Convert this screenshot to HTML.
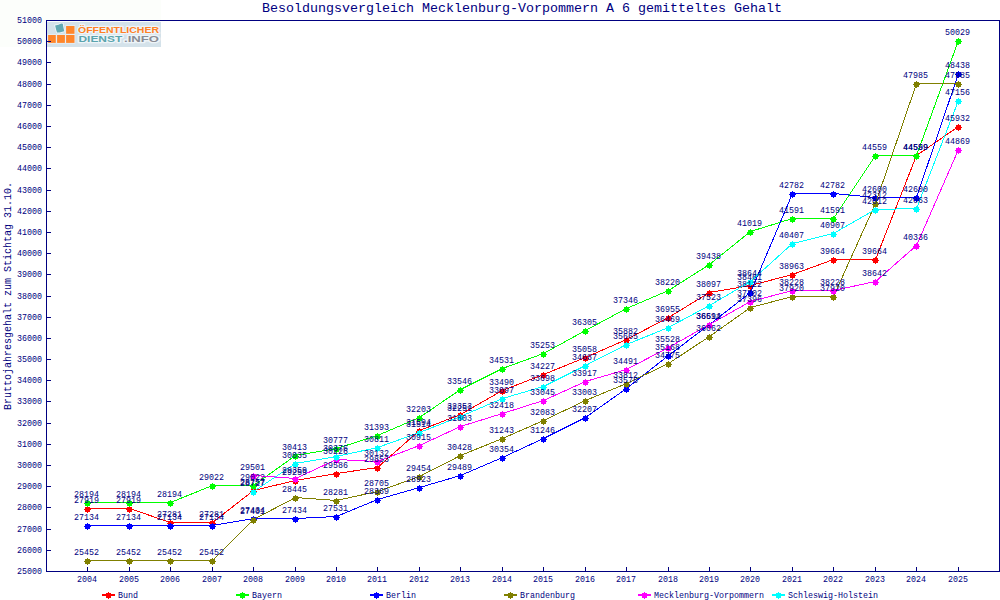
<!DOCTYPE html>
<html lang="de"><head><meta charset="utf-8"><title>Besoldungsvergleich</title><style>html,body{margin:0;padding:0;background:#fff;width:1000px;height:600px;overflow:hidden;font-family:"Liberation Sans",sans-serif}</style></head><body><svg width="1000" height="600" viewBox="0 0 1000 600" shape-rendering="crispEdges" style="display:block"><defs><path id="mk" d="M0 0h1v1h-1zM-2 1h5v2h-5zM-3 3h7v1h-7zM-2 4h5v2h-5zM0 6h1v1h-1z"/></defs><rect width="1000" height="600" fill="#ffffff"/><rect x="0" y="0" width="161" height="47" fill="#fcfefb"/>
<rect x="47" y="22" width="114" height="25" fill="#d4e2ea"/>
<g shape-rendering="geometricPrecision">
<rect x="48.1" y="35.0" width="7.7" height="7.9" fill="#ff862b" stroke="#e9f1f6" stroke-width="1.4" paint-order="stroke"/>
<rect x="57.1" y="35.0" width="7.8" height="7.9" fill="#ff862b" stroke="#e9f1f6" stroke-width="1.4" paint-order="stroke"/>
<rect x="66.1" y="35.0" width="8.4" height="7.9" fill="#ff862b" stroke="#e9f1f6" stroke-width="1.4" paint-order="stroke"/>
<rect x="66.1" y="26.0" width="8.4" height="7.8" fill="#ff862b" stroke="#e9f1f6" stroke-width="1.4" paint-order="stroke"/>
<path d="M55.1 25.4L58.6 24.7L60 24L61.4 23.5L62.8 23.7L63.3 27L64 30L64.2 31.2L61.4 31.9L59.6 32.6L57 32.4L56 29.3L55.6 27.5Z" fill="#62a9b3" stroke="#f2f7fa" stroke-width="1.6" paint-order="stroke" stroke-linejoin="round"/>
<text x="78" y="33.45" font-family="'Liberation Sans', sans-serif" font-size="9.7" font-weight="bold" fill="#ff8025" stroke="#eef4f8" stroke-width="2.5" stroke-linejoin="round" paint-order="stroke" textLength="81" lengthAdjust="spacingAndGlyphs">&#214;FFENTLICHER</text>
<text x="78.5" y="42.45" font-family="'Liberation Sans', sans-serif" font-size="9.5" font-weight="bold" fill="#5aa4ae" stroke="#eef4f8" stroke-width="2.7" stroke-linejoin="round" paint-order="stroke" textLength="43.7" lengthAdjust="spacingAndGlyphs">DIENST</text>
<text x="124" y="42.45" font-family="'Liberation Sans', sans-serif" font-size="9.5" font-weight="bold" fill="#8a8c94" stroke="#eef4f8" stroke-width="2.7" stroke-linejoin="round" paint-order="stroke" textLength="35" lengthAdjust="spacingAndGlyphs">.INFO</text>
</g>
<rect x="46.5" y="20.5" width="953" height="551" fill="none" stroke="#000080" stroke-width="1"/>
<path fill="#000080" d="M46 571h5v1h-5zM46 550h5v1h-5zM46 529h5v1h-5zM46 507h5v1h-5zM46 486h5v1h-5zM46 465h5v1h-5zM46 444h5v1h-5zM46 423h5v1h-5zM46 401h5v1h-5zM46 380h5v1h-5zM46 359h5v1h-5zM46 338h5v1h-5zM46 317h5v1h-5zM46 296h5v1h-5zM46 274h5v1h-5zM46 253h5v1h-5zM46 232h5v1h-5zM46 211h5v1h-5zM46 190h5v1h-5zM46 168h5v1h-5zM46 147h5v1h-5zM46 126h5v1h-5zM46 105h5v1h-5zM46 84h5v1h-5zM46 62h5v1h-5zM46 41h5v1h-5zM46 20h5v1h-5zM87 567h1v4h-1zM129 567h1v4h-1zM170 567h1v4h-1zM212 567h1v4h-1zM253 567h1v4h-1zM295 567h1v4h-1zM336 567h1v4h-1zM377 567h1v4h-1zM419 567h1v4h-1zM460 567h1v4h-1zM502 567h1v4h-1zM543 567h1v4h-1zM585 567h1v4h-1zM626 567h1v4h-1zM668 567h1v4h-1zM709 567h1v4h-1zM750 567h1v4h-1zM792 567h1v4h-1zM833 567h1v4h-1zM875 567h1v4h-1zM916 567h1v4h-1zM958 567h1v4h-1z"/>
<polyline fill="none" stroke="#ff0000" stroke-width="1" points="87.5,508.5 129.5,508.5 170.5,522.5 212.5,522.5 253.5,490.5 295.5,480.5 336.5,473.5 377.5,467.5 419.5,430.5 460.5,414.5 502.5,390.5 543.5,374.5 585.5,357.5 626.5,339.5 668.5,317.5 709.5,292.5 750.5,285.5 792.5,274.5 833.5,259.5 875.5,259.5 916.5,155.5 958.5,126.5"/>
<g fill="#ff0000"><use href="#mk" x="87" y="506"/><use href="#mk" x="129" y="506"/><use href="#mk" x="170" y="520"/><use href="#mk" x="212" y="520"/><use href="#mk" x="253" y="488"/><use href="#mk" x="295" y="478"/><use href="#mk" x="336" y="471"/><use href="#mk" x="377" y="465"/><use href="#mk" x="419" y="428"/><use href="#mk" x="460" y="412"/><use href="#mk" x="502" y="388"/><use href="#mk" x="543" y="372"/><use href="#mk" x="585" y="355"/><use href="#mk" x="626" y="337"/><use href="#mk" x="668" y="315"/><use href="#mk" x="709" y="290"/><use href="#mk" x="750" y="283"/><use href="#mk" x="792" y="272"/><use href="#mk" x="833" y="257"/><use href="#mk" x="875" y="257"/><use href="#mk" x="916" y="153"/><use href="#mk" x="958" y="124"/></g>
<polyline fill="none" stroke="#00ff00" stroke-width="1" points="87.5,502.5 129.5,502.5 170.5,502.5 212.5,485.5 253.5,485.5 295.5,455.5 336.5,448.5 377.5,435.5 419.5,417.5 460.5,389.5 502.5,368.5 543.5,353.5 585.5,330.5 626.5,308.5 668.5,290.5 709.5,264.5 750.5,231.5 792.5,218.5 833.5,218.5 875.5,155.5 916.5,155.5 958.5,40.5"/>
<g fill="#00ff00"><use href="#mk" x="87" y="500"/><use href="#mk" x="129" y="500"/><use href="#mk" x="170" y="500"/><use href="#mk" x="212" y="483"/><use href="#mk" x="253" y="483"/><use href="#mk" x="295" y="453"/><use href="#mk" x="336" y="446"/><use href="#mk" x="377" y="433"/><use href="#mk" x="419" y="415"/><use href="#mk" x="460" y="387"/><use href="#mk" x="502" y="366"/><use href="#mk" x="543" y="351"/><use href="#mk" x="585" y="328"/><use href="#mk" x="626" y="306"/><use href="#mk" x="668" y="288"/><use href="#mk" x="709" y="262"/><use href="#mk" x="750" y="229"/><use href="#mk" x="792" y="216"/><use href="#mk" x="833" y="216"/><use href="#mk" x="875" y="153"/><use href="#mk" x="916" y="153"/><use href="#mk" x="958" y="38"/></g>
<polyline fill="none" stroke="#0000ff" stroke-width="1" points="87.5,525.5 129.5,525.5 170.5,525.5 212.5,525.5 253.5,518.5 295.5,518.5 336.5,516.5 377.5,499.5 419.5,487.5 460.5,475.5 502.5,457.5 543.5,438.5 585.5,417.5 626.5,388.5 668.5,355.5 709.5,324.5 750.5,292.5 792.5,193.5 833.5,193.5 875.5,197.5 916.5,197.5 958.5,73.5"/>
<g fill="#0000ff"><use href="#mk" x="87" y="523"/><use href="#mk" x="129" y="523"/><use href="#mk" x="170" y="523"/><use href="#mk" x="212" y="523"/><use href="#mk" x="253" y="516"/><use href="#mk" x="295" y="516"/><use href="#mk" x="336" y="514"/><use href="#mk" x="377" y="497"/><use href="#mk" x="419" y="485"/><use href="#mk" x="460" y="473"/><use href="#mk" x="502" y="455"/><use href="#mk" x="543" y="436"/><use href="#mk" x="585" y="415"/><use href="#mk" x="626" y="386"/><use href="#mk" x="668" y="353"/><use href="#mk" x="709" y="322"/><use href="#mk" x="750" y="290"/><use href="#mk" x="792" y="191"/><use href="#mk" x="833" y="191"/><use href="#mk" x="875" y="195"/><use href="#mk" x="916" y="195"/><use href="#mk" x="958" y="71"/></g>
<polyline fill="none" stroke="#808000" stroke-width="1" points="87.5,560.5 129.5,560.5 170.5,560.5 212.5,560.5 253.5,519.5 295.5,497.5 336.5,500.5 377.5,491.5 419.5,476.5 460.5,455.5 502.5,438.5 543.5,420.5 585.5,400.5 626.5,383.5 668.5,363.5 709.5,336.5 750.5,307.5 792.5,296.5 833.5,296.5 875.5,203.5 916.5,83.5 958.5,83.5"/>
<g fill="#808000"><use href="#mk" x="87" y="558"/><use href="#mk" x="129" y="558"/><use href="#mk" x="170" y="558"/><use href="#mk" x="212" y="558"/><use href="#mk" x="253" y="517"/><use href="#mk" x="295" y="495"/><use href="#mk" x="336" y="498"/><use href="#mk" x="377" y="489"/><use href="#mk" x="419" y="474"/><use href="#mk" x="460" y="453"/><use href="#mk" x="502" y="436"/><use href="#mk" x="543" y="418"/><use href="#mk" x="585" y="398"/><use href="#mk" x="626" y="381"/><use href="#mk" x="668" y="361"/><use href="#mk" x="709" y="334"/><use href="#mk" x="750" y="305"/><use href="#mk" x="792" y="294"/><use href="#mk" x="833" y="294"/><use href="#mk" x="875" y="201"/><use href="#mk" x="916" y="81"/><use href="#mk" x="958" y="81"/></g>
<polyline fill="none" stroke="#ff00ff" stroke-width="1" points="253.5,475.5 295.5,478.5 336.5,459.5 377.5,461.5 419.5,445.5 460.5,426.5 502.5,413.5 543.5,400.5 585.5,381.5 626.5,369.5 668.5,347.5 709.5,324.5 750.5,301.5 792.5,290.5 833.5,290.5 875.5,281.5 916.5,245.5 958.5,149.5"/>
<g fill="#ff00ff"><use href="#mk" x="253" y="473"/><use href="#mk" x="295" y="476"/><use href="#mk" x="336" y="457"/><use href="#mk" x="377" y="459"/><use href="#mk" x="419" y="443"/><use href="#mk" x="460" y="424"/><use href="#mk" x="502" y="411"/><use href="#mk" x="543" y="398"/><use href="#mk" x="585" y="379"/><use href="#mk" x="626" y="367"/><use href="#mk" x="668" y="345"/><use href="#mk" x="709" y="322"/><use href="#mk" x="750" y="299"/><use href="#mk" x="792" y="288"/><use href="#mk" x="833" y="288"/><use href="#mk" x="875" y="279"/><use href="#mk" x="916" y="243"/><use href="#mk" x="958" y="147"/></g>
<polyline fill="none" stroke="#00ffff" stroke-width="1" points="253.5,491.5 295.5,463.5 336.5,456.5 377.5,447.5 419.5,432.5 460.5,416.5 502.5,398.5 543.5,386.5 585.5,365.5 626.5,344.5 668.5,327.5 709.5,305.5 750.5,281.5 792.5,243.5 833.5,233.5 875.5,209.5 916.5,208.5 958.5,100.5"/>
<g fill="#00ffff"><use href="#mk" x="253" y="489"/><use href="#mk" x="295" y="461"/><use href="#mk" x="336" y="454"/><use href="#mk" x="377" y="445"/><use href="#mk" x="419" y="430"/><use href="#mk" x="460" y="414"/><use href="#mk" x="502" y="396"/><use href="#mk" x="543" y="384"/><use href="#mk" x="585" y="363"/><use href="#mk" x="626" y="342"/><use href="#mk" x="668" y="325"/><use href="#mk" x="709" y="303"/><use href="#mk" x="750" y="279"/><use href="#mk" x="792" y="241"/><use href="#mk" x="833" y="231"/><use href="#mk" x="875" y="207"/><use href="#mk" x="916" y="206"/><use href="#mk" x="958" y="98"/></g>
<path fill="#ff0000" d="M102 594h13v1h-13zm0 1h13v1h-13zm6 -3h1v1h-1zm-2 1h5v1h-5zm0 1h5v1h-5zm-1 1h7v1h-7zm1 1h5v1h-5zm0 1h5v1h-5zm2 1h1v1h-1z"/>
<path fill="#00ff00" d="M236 594h13v1h-13zm0 1h13v1h-13zm6 -3h1v1h-1zm-2 1h5v1h-5zm0 1h5v1h-5zm-1 1h7v1h-7zm1 1h5v1h-5zm0 1h5v1h-5zm2 1h1v1h-1z"/>
<path fill="#0000ff" d="M370 594h13v1h-13zm0 1h13v1h-13zm6 -3h1v1h-1zm-2 1h5v1h-5zm0 1h5v1h-5zm-1 1h7v1h-7zm1 1h5v1h-5zm0 1h5v1h-5zm2 1h1v1h-1z"/>
<path fill="#808000" d="M504 594h13v1h-13zm0 1h13v1h-13zm6 -3h1v1h-1zm-2 1h5v1h-5zm0 1h5v1h-5zm-1 1h7v1h-7zm1 1h5v1h-5zm0 1h5v1h-5zm2 1h1v1h-1z"/>
<path fill="#ff00ff" d="M638 594h13v1h-13zm0 1h13v1h-13zm6 -3h1v1h-1zm-2 1h5v1h-5zm0 1h5v1h-5zm-1 1h7v1h-7zm1 1h5v1h-5zm0 1h5v1h-5zm2 1h1v1h-1z"/>
<path fill="#00ffff" d="M772 594h13v1h-13zm0 1h13v1h-13zm6 -3h1v1h-1zm-2 1h5v1h-5zm0 1h5v1h-5zm-1 1h7v1h-7zm1 1h5v1h-5zm0 1h5v1h-5zm2 1h1v1h-1z"/>
<g font-family="'Liberation Mono', monospace" fill="#000080" stroke="none" shape-rendering="geometricPrecision"><text x="262" y="12" font-size="13.33">Besoldungsvergleich Mecklenburg-Vorpommern A 6 gemitteltes Gehalt</text><text x="11" y="410" font-size="10.00" transform="rotate(-90 11 410)">Bruttojahresgehalt zum Stichtag 31.10.</text><text x="17" y="23" font-size="8.33">51000</text><text x="17" y="44" font-size="8.33">50000</text><text x="17" y="65" font-size="8.33">49000</text><text x="17" y="87" font-size="8.33">48000</text><text x="17" y="108" font-size="8.33">47000</text><text x="17" y="129" font-size="8.33">46000</text><text x="17" y="150" font-size="8.33">45000</text><text x="17" y="171" font-size="8.33">44000</text><text x="17" y="193" font-size="8.33">43000</text><text x="17" y="214" font-size="8.33">42000</text><text x="17" y="235" font-size="8.33">41000</text><text x="17" y="256" font-size="8.33">40000</text><text x="17" y="277" font-size="8.33">39000</text><text x="17" y="299" font-size="8.33">38000</text><text x="17" y="320" font-size="8.33">37000</text><text x="17" y="341" font-size="8.33">36000</text><text x="17" y="362" font-size="8.33">35000</text><text x="17" y="383" font-size="8.33">34000</text><text x="17" y="404" font-size="8.33">33000</text><text x="17" y="426" font-size="8.33">32000</text><text x="17" y="447" font-size="8.33">31000</text><text x="17" y="468" font-size="8.33">30000</text><text x="17" y="489" font-size="8.33">29000</text><text x="17" y="510" font-size="8.33">28000</text><text x="17" y="532" font-size="8.33">27000</text><text x="17" y="553" font-size="8.33">26000</text><text x="17" y="574" font-size="8.33">25000</text><text x="77" y="582" font-size="8.33">2004</text><text x="119" y="582" font-size="8.33">2005</text><text x="160" y="582" font-size="8.33">2006</text><text x="202" y="582" font-size="8.33">2007</text><text x="243" y="582" font-size="8.33">2008</text><text x="285" y="582" font-size="8.33">2009</text><text x="326" y="582" font-size="8.33">2010</text><text x="367" y="582" font-size="8.33">2011</text><text x="409" y="582" font-size="8.33">2012</text><text x="450" y="582" font-size="8.33">2013</text><text x="492" y="582" font-size="8.33">2014</text><text x="533" y="582" font-size="8.33">2015</text><text x="575" y="582" font-size="8.33">2016</text><text x="616" y="582" font-size="8.33">2017</text><text x="658" y="582" font-size="8.33">2018</text><text x="699" y="582" font-size="8.33">2019</text><text x="740" y="582" font-size="8.33">2020</text><text x="782" y="582" font-size="8.33">2021</text><text x="823" y="582" font-size="8.33">2022</text><text x="865" y="582" font-size="8.33">2023</text><text x="906" y="582" font-size="8.33">2024</text><text x="948" y="582" font-size="8.33">2025</text><text x="74" y="503" font-size="8.33">27919</text><text x="116" y="503" font-size="8.33">27919</text><text x="157" y="517" font-size="8.33">27281</text><text x="199" y="517" font-size="8.33">27281</text><text x="240" y="485" font-size="8.33">28757</text><text x="282" y="475" font-size="8.33">29259</text><text x="323" y="468" font-size="8.33">29586</text><text x="364" y="462" font-size="8.33">29853</text><text x="406" y="425" font-size="8.33">31594</text><text x="447" y="409" font-size="8.33">32353</text><text x="489" y="385" font-size="8.33">33490</text><text x="530" y="369" font-size="8.33">34227</text><text x="572" y="352" font-size="8.33">35058</text><text x="613" y="334" font-size="8.33">35882</text><text x="655" y="312" font-size="8.33">36955</text><text x="696" y="287" font-size="8.33">38097</text><text x="737" y="280" font-size="8.33">38461</text><text x="779" y="269" font-size="8.33">38963</text><text x="820" y="254" font-size="8.33">39664</text><text x="862" y="254" font-size="8.33">39664</text><text x="903" y="150" font-size="8.33">44599</text><text x="945" y="121" font-size="8.33">45932</text><text x="74" y="497" font-size="8.33">28194</text><text x="116" y="497" font-size="8.33">28194</text><text x="157" y="497" font-size="8.33">28194</text><text x="199" y="480" font-size="8.33">29022</text><text x="240" y="480" font-size="8.33">29022</text><text x="282" y="450" font-size="8.33">30413</text><text x="323" y="443" font-size="8.33">30777</text><text x="364" y="430" font-size="8.33">31393</text><text x="406" y="412" font-size="8.33">32203</text><text x="447" y="384" font-size="8.33">33546</text><text x="489" y="363" font-size="8.33">34531</text><text x="530" y="348" font-size="8.33">35253</text><text x="572" y="325" font-size="8.33">36305</text><text x="613" y="303" font-size="8.33">37346</text><text x="655" y="285" font-size="8.33">38220</text><text x="696" y="259" font-size="8.33">39438</text><text x="737" y="226" font-size="8.33">41019</text><text x="779" y="213" font-size="8.33">41591</text><text x="820" y="213" font-size="8.33">41591</text><text x="862" y="150" font-size="8.33">44559</text><text x="903" y="150" font-size="8.33">44559</text><text x="945" y="35" font-size="8.33">50029</text><text x="74" y="520" font-size="8.33">27134</text><text x="116" y="520" font-size="8.33">27134</text><text x="157" y="520" font-size="8.33">27134</text><text x="199" y="520" font-size="8.33">27134</text><text x="240" y="513" font-size="8.33">27434</text><text x="282" y="513" font-size="8.33">27434</text><text x="323" y="511" font-size="8.33">27531</text><text x="364" y="494" font-size="8.33">28369</text><text x="406" y="482" font-size="8.33">28923</text><text x="447" y="470" font-size="8.33">29489</text><text x="489" y="452" font-size="8.33">30354</text><text x="530" y="433" font-size="8.33">31246</text><text x="572" y="412" font-size="8.33">32207</text><text x="613" y="383" font-size="8.33">33576</text><text x="655" y="350" font-size="8.33">35168</text><text x="696" y="319" font-size="8.33">36591</text><text x="737" y="287" font-size="8.33">38122</text><text x="779" y="188" font-size="8.33">42782</text><text x="820" y="188" font-size="8.33">42782</text><text x="862" y="192" font-size="8.33">42600</text><text x="903" y="192" font-size="8.33">42600</text><text x="945" y="68" font-size="8.33">48438</text><text x="74" y="555" font-size="8.33">25452</text><text x="116" y="555" font-size="8.33">25452</text><text x="157" y="555" font-size="8.33">25452</text><text x="199" y="555" font-size="8.33">25452</text><text x="240" y="514" font-size="8.33">27401</text><text x="282" y="492" font-size="8.33">28445</text><text x="323" y="495" font-size="8.33">28281</text><text x="364" y="486" font-size="8.33">28705</text><text x="406" y="471" font-size="8.33">29454</text><text x="447" y="450" font-size="8.33">30428</text><text x="489" y="433" font-size="8.33">31243</text><text x="530" y="415" font-size="8.33">32083</text><text x="572" y="395" font-size="8.33">33003</text><text x="613" y="378" font-size="8.33">33812</text><text x="655" y="358" font-size="8.33">34775</text><text x="696" y="331" font-size="8.33">36062</text><text x="737" y="302" font-size="8.33">37396</text><text x="779" y="291" font-size="8.33">37920</text><text x="820" y="291" font-size="8.33">37920</text><text x="862" y="198" font-size="8.33">42312</text><text x="903" y="78" font-size="8.33">47985</text><text x="945" y="78" font-size="8.33">47985</text><text x="240" y="470" font-size="8.33">29501</text><text x="282" y="473" font-size="8.33">29359</text><text x="323" y="454" font-size="8.33">30226</text><text x="364" y="456" font-size="8.33">30132</text><text x="406" y="440" font-size="8.33">30915</text><text x="447" y="421" font-size="8.33">31803</text><text x="489" y="408" font-size="8.33">32418</text><text x="530" y="395" font-size="8.33">33045</text><text x="572" y="376" font-size="8.33">33917</text><text x="613" y="364" font-size="8.33">34491</text><text x="655" y="342" font-size="8.33">35528</text><text x="696" y="319" font-size="8.33">36614</text><text x="737" y="296" font-size="8.33">37702</text><text x="779" y="285" font-size="8.33">38228</text><text x="820" y="285" font-size="8.33">38228</text><text x="862" y="276" font-size="8.33">38642</text><text x="903" y="240" font-size="8.33">40336</text><text x="945" y="144" font-size="8.33">44869</text><text x="240" y="486" font-size="8.33">28727</text><text x="282" y="458" font-size="8.33">30035</text><text x="323" y="451" font-size="8.33">30376</text><text x="364" y="442" font-size="8.33">30811</text><text x="406" y="427" font-size="8.33">31514</text><text x="447" y="411" font-size="8.33">32251</text><text x="489" y="393" font-size="8.33">33097</text><text x="530" y="381" font-size="8.33">33698</text><text x="572" y="360" font-size="8.33">34687</text><text x="613" y="339" font-size="8.33">35665</text><text x="655" y="322" font-size="8.33">36469</text><text x="696" y="300" font-size="8.33">37523</text><text x="737" y="276" font-size="8.33">38644</text><text x="779" y="238" font-size="8.33">40407</text><text x="820" y="228" font-size="8.33">40907</text><text x="862" y="204" font-size="8.33">42012</text><text x="903" y="203" font-size="8.33">42063</text><text x="945" y="95" font-size="8.33">47156</text><text x="118" y="598" font-size="8.33">Bund</text><text x="252" y="598" font-size="8.33">Bayern</text><text x="386" y="598" font-size="8.33">Berlin</text><text x="520" y="598" font-size="8.33">Brandenburg</text><text x="654" y="598" font-size="8.33">Mecklenburg-Vorpommern</text><text x="788" y="598" font-size="8.33">Schleswig-Holstein</text></g></svg></body></html>
